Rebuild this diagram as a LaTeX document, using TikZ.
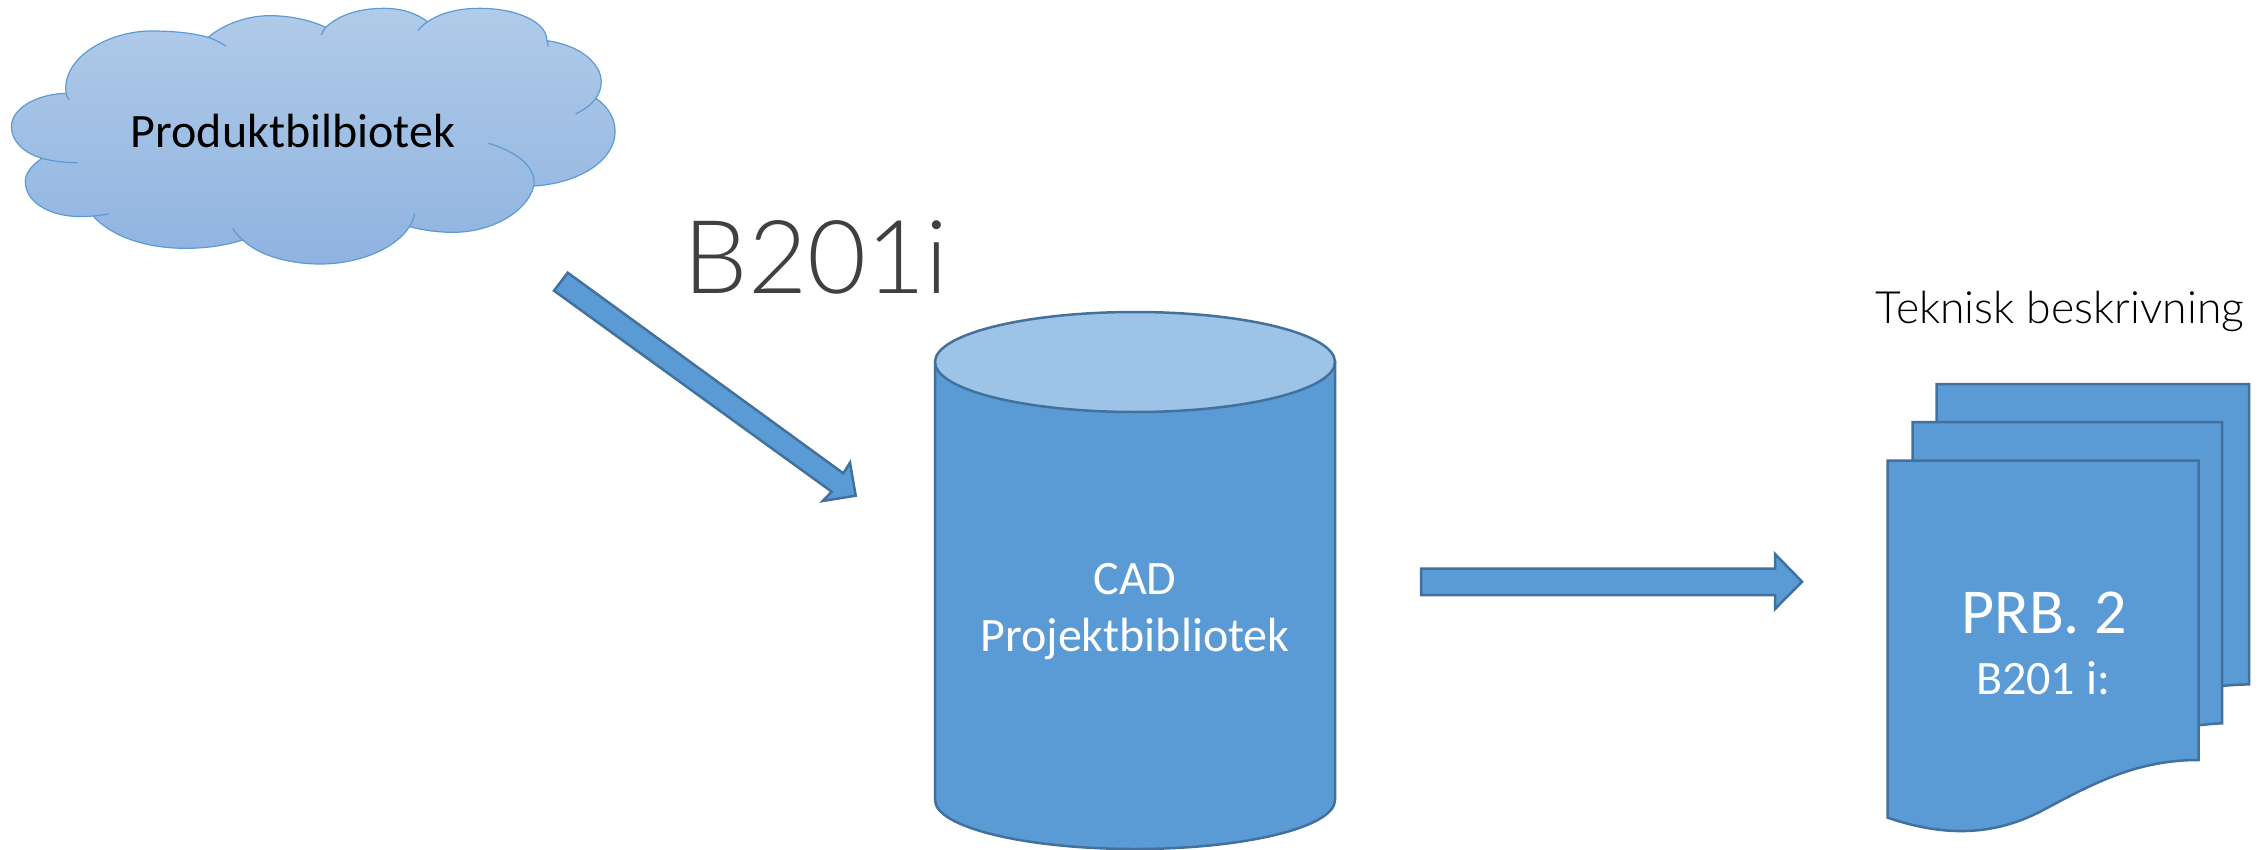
\documentclass[tikz,border=0pt]{standalone}
\usepackage{fontspec}
\setmainfont{Carlito}
\newfontfamily\lightfont{Lato Light}
\definecolor{fillblue}{HTML}{5B9BD5}
\definecolor{edgeblue}{HTML}{41719C}
\definecolor{topblue}{HTML}{9DC3E6}
\definecolor{cloudtop}{HTML}{B1CBE9}
\definecolor{cloudbot}{HTML}{8FB3E0}
\definecolor{greytext}{HTML}{404040}
\tikzset{
  solidshape/.style={fill=fillblue,draw=edgeblue,line width=2.5pt,line join=miter},
  cloudline/.style={draw=fillblue,line width=1.2pt},
  lab/.style={inner sep=0pt,anchor=base},
}
\newcommand{\fs}[1]{\fontsize{#1}{#1}\selectfont}
\begin{document}
\begin{tikzpicture}[x=1pt,y=-1pt]
\useasboundingbox (0,0) rectangle (2266,850);
% cloud
\begin{scope}[xscale=0.40816,yscale=0.33333]
\path[top color=cloudtop,bottom color=cloudbot,cloudline]
 (162,280) .. controls (150,170) and (270,93) .. (370,93) .. controls (420,93) and (470,98) .. (510,112)
 .. controls (550,70) and (610,47) .. (660,47) .. controls (710,47) and (760,60) .. (798,82)
 .. controls (830,45) and (880,25) .. (940,25) .. controls (985,25) and (1020,40) .. (1048,65)
 .. controls (1080,38) and (1125,25) .. (1175,25) .. controls (1265,25) and (1340,65) .. (1340,122)
 .. controls (1420,135) and (1473,190) .. (1473,245) .. controls (1473,265) and (1468,280) .. (1460,295)
 .. controls (1490,320) and (1507,355) .. (1507,395) .. controls (1507,480) and (1420,550) .. (1308,558)
 .. controls (1290,640) and (1200,697) .. (1110,697) .. controls (1070,697) and (1035,690) .. (1003,680)
 .. controls (970,745) and (880,792) .. (785,792) .. controls (700,792) and (630,762) .. (595,720)
 .. controls (550,737) and (505,745) .. (455,745) .. controls (350,745) and (270,705) .. (228,648)
 .. controls (130,660) and (62,610) .. (62,545) .. controls (62,520) and (78,495) .. (103,475)
 .. controls (60,460) and (28,425) .. (28,380) .. controls (28,325) and (90,282) .. (162,280) -- cycle;
\draw[cloudline] (510,112) .. controls (525,118) and (540,128) .. (553,138);
\draw[cloudline] (798,82) .. controls (793,90) and (789,97) .. (787,105);
\draw[cloudline] (1048,65) .. controls (1038,73) and (1030,82) .. (1024,92);
\draw[cloudline] (1340,122) .. controls (1342,128) and (1343,134) .. (1343,140);
\draw[cloudline] (1460,295) .. controls (1448,315) and (1430,330) .. (1410,342);
\draw[cloudline] (1308,558) .. controls (1315,500) and (1265,455) .. (1197,430);
\draw[cloudline] (1003,680) .. controls (1009,668) and (1014,654) .. (1016,640);
\draw[cloudline] (595,720) .. controls (585,710) and (577,698) .. (570,685);
\draw[cloudline] (228,648) .. controls (241,647) and (254,645) .. (266,642);
\draw[cloudline] (103,475) .. controls (130,484) and (160,488) .. (190,488);
\draw[cloudline] (162,280) .. controls (163,287) and (166,294) .. (170,300);
\end{scope}
\node[lab,font=\fs{48}] (prod) at (293,148) {Produktbilbiotek};
% title
\node[lab,font=\fs{102}\lightfont,text=greytext] (bi) at (816,294) {B201i};
\node[lab,font=\fs{44.5}\lightfont] (tek) at (2060,323) {Teknisk beskrivning};
% cylinder
\path[solidshape] (935,362) -- (935,800) arc[start angle=180,end angle=0,x radius=200,y radius=49] -- (1335,362) -- cycle;
\path[solidshape,fill=topblue] (1135,362) ellipse[x radius=200,y radius=50];
\node[lab,font=\fs{48},text=white] (cad) at (1135,594) {CAD};
\node[lab,font=\fs{48},text=white] (pb) at (1135,651) {Projektbibliotek};
% arrows
\path[solidshape] (567.7,272.7) -- (554,290.7) -- (831.7,491.7) -- (822.7,501) -- (855.7,495.7) -- (850,462.7) -- (843.3,473.3) -- cycle;
\path[solidshape] (1421,568.5) -- (1421,595) -- (1775,595) -- (1775,609) -- (1802,581.7) -- (1775,554) -- (1775,568.5) -- cycle;
% documents
\begin{scope}[shift={(1860,370)},scale=0.33333]
\path[solidshape] (230,42) -- (1167,42) -- (1167,943) .. controls (1140,944) and (1110,945) .. (1086,948) -- (230,955) -- cycle;
\path[solidshape] (158,156) -- (1086,156) -- (1086,1060) .. controls (1060,1061) and (1040,1063) .. (1016,1066) -- (158,1067) -- cycle;
\path[solidshape] (83,272) -- (1016,272) -- (1016,1170) .. controls (830,1170) and (700,1240) .. (550,1320) .. controls (400,1400) and (250,1400) .. (83,1343) -- cycle;
\end{scope}
\node[lab,font=\fs{64},text=white] (prb) at (2044,633) {PRB. 2};
\node[lab,font=\fs{48},text=white] (bi2) at (2043,694) {B201 i:};
\end{tikzpicture}
\end{document}
